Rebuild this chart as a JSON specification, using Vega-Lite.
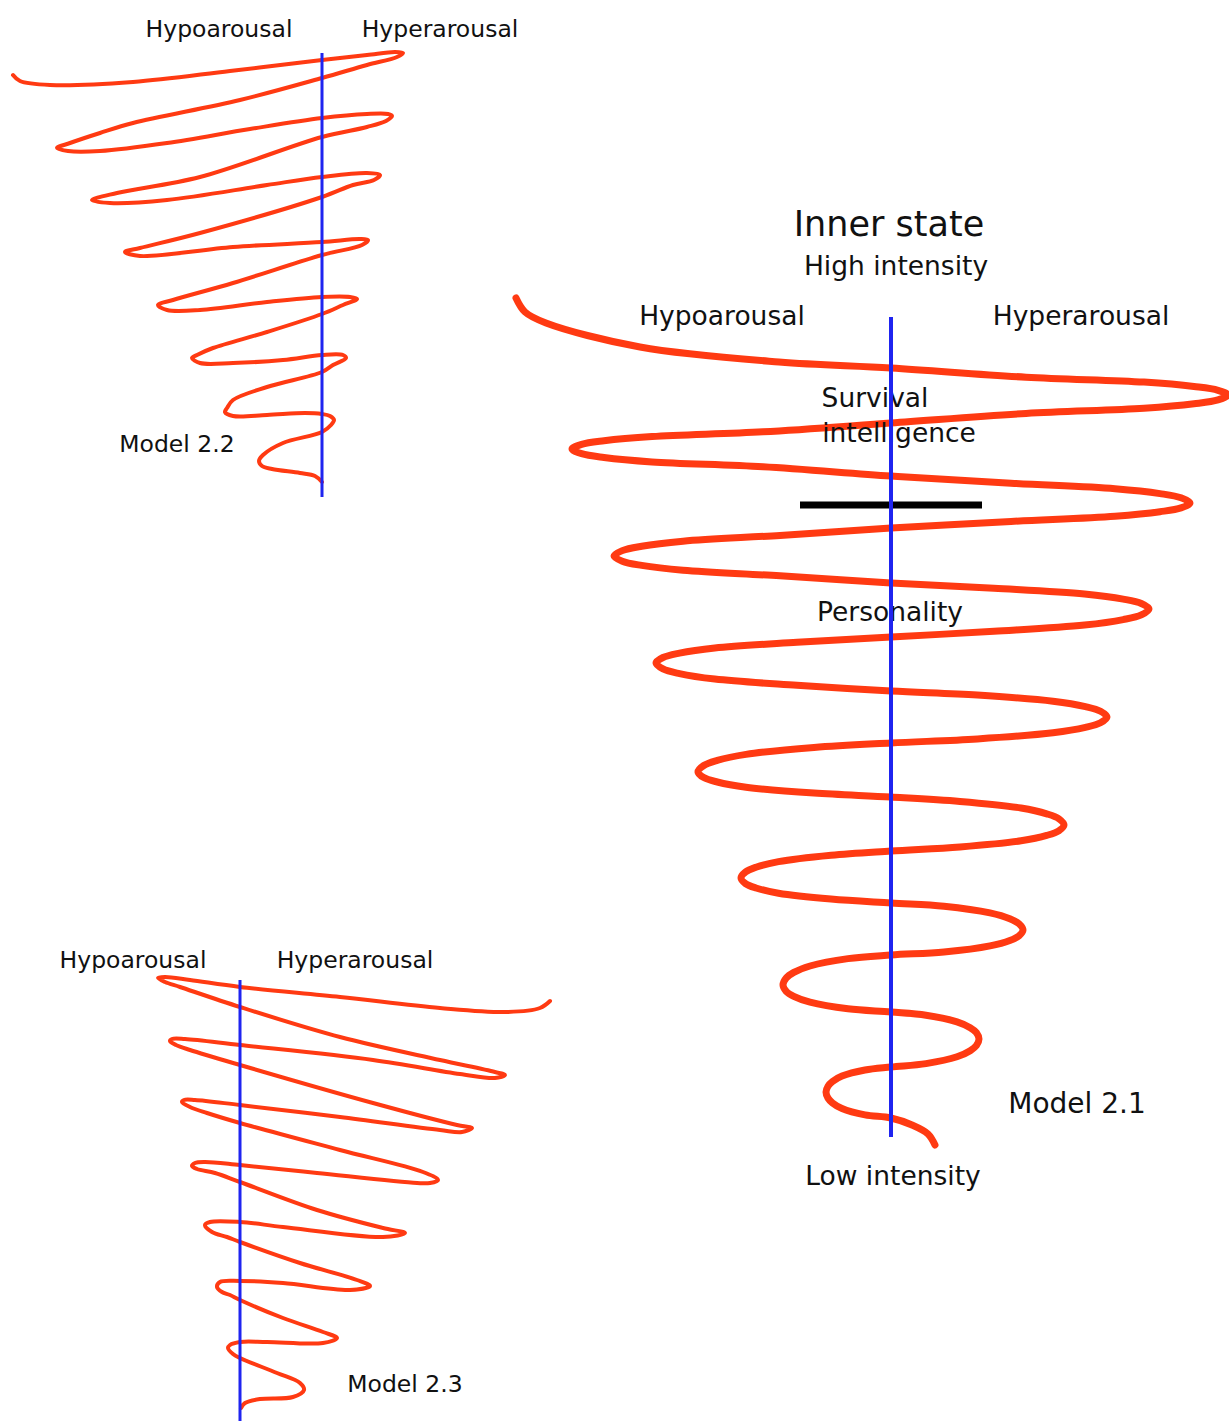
{
"$schema":"https://vega.github.io/schema/vega-lite/v6.json",
"width":1229,"height":1421,"padding":0,
"autosize":{"type":"none"},
"background":"white",
"config":{"view":{"stroke":null}},
"datasets":{
"main":[{"x":516,"y":298},{"x":525,"y":312},{"x":546,"y":323},{"x":640,"y":347},{"x":779,"y":362},{"x":891,"y":368},
{"x":1026,"y":377.2},{"x":1144,"y":382.1},{"x":1194,"y":386.5},{"x":1218,"y":390.3},{"x":1228,"y":395},{"x":1218,"y":399.9},{"x":1194,"y":403.8},{"x":1144,"y":408.3},{"x":1026,"y":413.5},{"x":891,"y":423},
{"x":763,"y":431.8},{"x":652,"y":436.6},{"x":604,"y":440.8},{"x":581.6,"y":444.4},{"x":572,"y":449},{"x":581.6,"y":453.7},{"x":604,"y":457.5},{"x":652,"y":461.9},{"x":763,"y":466.8},{"x":891,"y":476},
{"x":1011,"y":483.2},{"x":1115,"y":488.7},{"x":1160,"y":493.6},{"x":1181,"y":497.8},{"x":1190,"y":503},{"x":1181,"y":507.9},{"x":1160,"y":511.7},{"x":1115,"y":516.2},{"x":1011,"y":521.4},{"x":891,"y":528},
{"x":780,"y":535.4},{"x":683,"y":541.2},{"x":641.7,"y":546.2},{"x":622.3,"y":550.6},{"x":614,"y":556},{"x":622.3,"y":561.2},{"x":641.7,"y":565.4},{"x":683,"y":570.3},{"x":780,"y":575.8},{"x":891,"y":583},
{"x":994,"y":588.3},{"x":1084.5,"y":594},{"x":1123.2,"y":599.1},{"x":1141.3,"y":603.5},{"x":1149,"y":609},{"x":1141.3,"y":614.9},{"x":1123.2,"y":619.6},{"x":1084.5,"y":625.1},{"x":994,"y":631.3},{"x":891,"y":637},
{"x":797,"y":642.3},{"x":714.8,"y":648},{"x":679.5,"y":653.1},{"x":663,"y":657.5},{"x":656,"y":663},{"x":663,"y":668.9},{"x":679.5,"y":673.6},{"x":714.8,"y":679.1},{"x":797,"y":685.3},{"x":891,"y":691},
{"x":977.4,"y":695.1},{"x":1053,"y":701.2},{"x":1085.4,"y":706.6},{"x":1100.5,"y":711.2},{"x":1107,"y":717},{"x":1100.5,"y":722.8},{"x":1085.4,"y":727.4},{"x":1053,"y":732.8},{"x":977.4,"y":738.9},{"x":891,"y":743},
{"x":814,"y":747.5},{"x":746,"y":754.4},{"x":717.3,"y":760.4},{"x":703.8,"y":765.5},{"x":698,"y":772},{"x":703.8,"y":777.6},{"x":717.3,"y":782},{"x":746,"y":787.2},{"x":814,"y":793.1},{"x":891,"y":797},
{"x":960,"y":801.4},{"x":1021,"y":808},{"x":1046.7,"y":813.8},{"x":1058.8,"y":818.7},{"x":1064,"y":825},{"x":1058.8,"y":830.8},{"x":1046.7,"y":835.4},{"x":1021,"y":840.8},{"x":960,"y":846.9},{"x":891,"y":851},
{"x":831,"y":855.2},{"x":778.5,"y":861.6},{"x":756,"y":867.2},{"x":745.5,"y":872},{"x":741,"y":878},{"x":745.5,"y":883.6},{"x":756,"y":888},{"x":778.5,"y":893.2},{"x":831,"y":899.1},{"x":891,"y":903},
{"x":944,"y":906.2},{"x":990,"y":912.9},{"x":1009.8,"y":918.7},{"x":1019,"y":923.7},{"x":1023,"y":930},{"x":1019,"y":935.8},{"x":1009.8,"y":940.5},{"x":990,"y":945.9},{"x":944,"y":952},{"x":891,"y":955},
{"x":848,"y":958.6},{"x":810,"y":966},{"x":793.8,"y":972.4},{"x":786.2,"y":978},{"x":783,"y":985},{"x":786.2,"y":991.3},{"x":793.8,"y":996.3},{"x":810,"y":1002.1},{"x":848,"y":1008.8},{"x":891,"y":1012},
{"x":926,"y":1015.2},{"x":957,"y":1021.9},{"x":970.2,"y":1027.7},{"x":976.4,"y":1032.7},{"x":979,"y":1039},{"x":976.4,"y":1045.5},{"x":970.2,"y":1050.7},{"x":957,"y":1056.8},{"x":926,"y":1063.6},{"x":891,"y":1067},
{"x":865,"y":1070},{"x":842,"y":1076.1},{"x":832.5,"y":1081.5},{"x":828,"y":1086.2},{"x":826,"y":1092},{"x":828,"y":1098.1},{"x":832.5,"y":1102.9},{"x":842,"y":1108.5},{"x":865,"y":1114.9},{"x":891,"y":1118},
{"x":912,"y":1125},{"x":928,"y":1134},{"x":935,"y":1145}],
"tl":[{"x":13,"y":75},{"x":20,"y":81},{"x":50,"y":85},{"x":133,"y":82},{"x":230,"y":71},{"x":322,"y":60},{"x":367,"y":55},{"x":395,"y":52},{"x":403,"y":53},
{"x":397,"y":57},{"x":367,"y":65},{"x":322,"y":78},{"x":240,"y":100},{"x":133,"y":123},{"x":100,"y":133},{"x":70,"y":143},{"x":57,"y":148},
{"x":68,"y":151},{"x":100,"y":151},{"x":167,"y":143},{"x":250,"y":129},{"x":322,"y":118},{"x":367,"y":114},{"x":388,"y":114},{"x":392,"y":116},
{"x":386,"y":121},{"x":367,"y":127},{"x":322,"y":137},{"x":200,"y":177},{"x":117,"y":193},{"x":92,"y":200},
{"x":110,"y":203},{"x":167,"y":200},{"x":267,"y":185},{"x":322,"y":177},{"x":367,"y":173},{"x":380,"y":175},
{"x":374,"y":180},{"x":353,"y":185},{"x":322,"y":197},{"x":200,"y":233},{"x":140,"y":248},{"x":125,"y":252},
{"x":140,"y":256},{"x":233,"y":247},{"x":322,"y":242},{"x":360,"y":239},{"x":368,"y":240},
{"x":362,"y":245},{"x":322,"y":255},{"x":233,"y":283},{"x":173,"y":300},{"x":158,"y":305},
{"x":167,"y":310},{"x":200,"y":310},{"x":267,"y":302},{"x":322,"y":297},{"x":350,"y":297},{"x":357,"y":299},
{"x":343,"y":305},{"x":322,"y":314},{"x":267,"y":332},{"x":213,"y":348},{"x":197,"y":355},{"x":192,"y":358},
{"x":200,"y":363},{"x":233,"y":363},{"x":283,"y":360},{"x":322,"y":355},{"x":343,"y":355},{"x":346,"y":358},
{"x":333,"y":365},{"x":322,"y":372},{"x":267,"y":387},{"x":233,"y":400},{"x":227,"y":408},{"x":225,"y":412},
{"x":233,"y":416},{"x":267,"y":415},{"x":305,"y":413},{"x":322,"y":414},{"x":330,"y":416},{"x":334,"y":420},
{"x":331,"y":425},{"x":322,"y":432},{"x":283,"y":443},{"x":263,"y":455},{"x":259,"y":461},
{"x":262,"y":466},{"x":272,"y":469},{"x":300,"y":473},{"x":315,"y":476},{"x":322,"y":482}],
"bl":[{"x":550,"y":1001},{"x":540,"y":1008},{"x":507,"y":1012},{"x":440,"y":1008},{"x":340,"y":997},{"x":240,"y":987},{"x":190,"y":980},{"x":165,"y":977},{"x":158,"y":978},
{"x":165,"y":982},{"x":180,"y":987},{"x":240,"y":1007},{"x":340,"y":1037},{"x":440,"y":1060},{"x":495,"y":1072},{"x":505,"y":1075},
{"x":495,"y":1078},{"x":460,"y":1074},{"x":373,"y":1060},{"x":240,"y":1045},{"x":185,"y":1039},{"x":172,"y":1039},{"x":170,"y":1041},
{"x":176,"y":1045},{"x":190,"y":1050},{"x":240,"y":1065},{"x":373,"y":1103},{"x":457,"y":1125},{"x":472,"y":1128},
{"x":462,"y":1132},{"x":440,"y":1130},{"x":340,"y":1117},{"x":240,"y":1105},{"x":195,"y":1100},{"x":184,"y":1100},{"x":182,"y":1102},
{"x":190,"y":1107},{"x":207,"y":1113},{"x":240,"y":1123},{"x":340,"y":1150},{"x":423,"y":1172},{"x":438,"y":1180},
{"x":430,"y":1183},{"x":417,"y":1183},{"x":317,"y":1173},{"x":240,"y":1165},{"x":205,"y":1162},{"x":195,"y":1163},{"x":192,"y":1166},
{"x":197,"y":1169},{"x":215,"y":1173},{"x":240,"y":1182},{"x":317,"y":1210},{"x":383,"y":1228},{"x":405,"y":1233},
{"x":383,"y":1237},{"x":283,"y":1227},{"x":240,"y":1222},{"x":210,"y":1222},{"x":205,"y":1225},
{"x":212,"y":1232},{"x":227,"y":1237},{"x":240,"y":1242},{"x":300,"y":1263},{"x":357,"y":1280},{"x":370,"y":1286},
{"x":350,"y":1290},{"x":283,"y":1283},{"x":240,"y":1281},{"x":220,"y":1282},{"x":217,"y":1287},
{"x":222,"y":1292},{"x":230,"y":1295},{"x":240,"y":1300},{"x":283,"y":1318},{"x":323,"y":1332},{"x":337,"y":1338},
{"x":323,"y":1343},{"x":267,"y":1342},{"x":240,"y":1342},{"x":230,"y":1345},{"x":228,"y":1348},
{"x":233,"y":1354},{"x":240,"y":1358},{"x":277,"y":1373},{"x":300,"y":1383},{"x":304,"y":1390},
{"x":293,"y":1397},{"x":260,"y":1399},{"x":245,"y":1403},{"x":241,"y":1408}],
"axesMain":[{"x":891,"y":317,"y2":1137}],
"axesSmall":[{"x":322,"y":53,"y2":497},{"x":240,"y":980,"y2":1421}],
"bar":[{"x":800,"x2":982,"y":505}],
"txtSmall":[{"x":219,"y":37,"t":"Hypoarousal"},{"x":440,"y":37,"t":"Hyperarousal"},{"x":177,"y":452,"t":"Model 2.2"},
{"x":133,"y":968,"t":"Hypoarousal"},{"x":355,"y":968,"t":"Hyperarousal"},{"x":405,"y":1392,"t":"Model 2.3"}],
"txtMain":[{"x":896,"y":275,"t":"High intensity"},{"x":722,"y":325,"t":"Hypoarousal"},{"x":1081,"y":325,"t":"Hyperarousal"},
{"x":875,"y":407,"t":"Survival"},{"x":899,"y":442,"t":"intelligence"},{"x":890,"y":621,"t":"Personality"},{"x":893,"y":1185,"t":"Low intensity"}],
"txtTitle":[{"x":889,"y":236,"t":"Inner state"}],
"txtModel":[{"x":1077,"y":1113,"t":"Model 2.1"}]
},
"encoding":{
"x":{"field":"x","type":"quantitative","scale":{"domain":[0,1229],"nice":false,"zero":false},"axis":null},
"y":{"field":"y","type":"quantitative","scale":{"domain":[0,1421],"reverse":true,"nice":false,"zero":false},"axis":null}
},
"layer":[
{"data":{"name":"main"},"mark":{"type":"line","interpolate":"catmull-rom","color":"#ff3a12","strokeWidth":7,"strokeCap":"round"},"encoding":{"order":{"value":null}}},
{"data":{"name":"tl"},"mark":{"type":"line","interpolate":"catmull-rom","color":"#ff3a12","strokeWidth":4,"strokeCap":"round"},"encoding":{"order":{"value":null}}},
{"data":{"name":"bl"},"mark":{"type":"line","interpolate":"catmull-rom","color":"#ff3a12","strokeWidth":4,"strokeCap":"round"},"encoding":{"order":{"value":null}}},
{"data":{"name":"bar"},"mark":{"type":"rule","color":"#000000","strokeWidth":7},"encoding":{"x2":{"field":"x2"}}},
{"data":{"name":"txtSmall"},"mark":{"type":"text","font":"DejaVu Sans","fontSize":23.5,"align":"center","baseline":"alphabetic","color":"#111111"},"encoding":{"text":{"field":"t"}}},
{"data":{"name":"txtMain"},"mark":{"type":"text","font":"DejaVu Sans","fontSize":26.5,"align":"center","baseline":"alphabetic","color":"#111111"},"encoding":{"text":{"field":"t"}}},
{"data":{"name":"txtTitle"},"mark":{"type":"text","font":"DejaVu Sans","fontSize":35,"align":"center","baseline":"alphabetic","color":"#111111"},"encoding":{"text":{"field":"t"}}},
{"data":{"name":"txtModel"},"mark":{"type":"text","font":"DejaVu Sans","fontSize":28,"align":"center","baseline":"alphabetic","color":"#111111"},"encoding":{"text":{"field":"t"}}},
{"data":{"name":"axesMain"},"mark":{"type":"rule","color":"#1f24f0","strokeWidth":4},"encoding":{"y2":{"field":"y2"}}},
{"data":{"name":"axesSmall"},"mark":{"type":"rule","color":"#1f24f0","strokeWidth":3},"encoding":{"y2":{"field":"y2"}}}
]
}
